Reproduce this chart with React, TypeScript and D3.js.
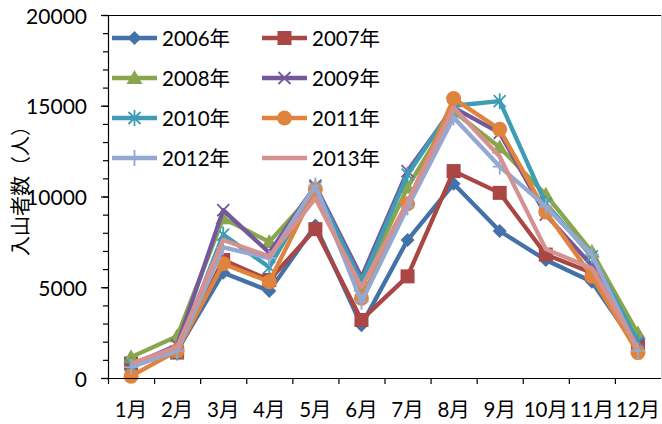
import React from "react";
import * as d3 from "d3";

const months = ["1月", "2月", "3月", "4月", "5月", "6月", "7月", "8月", "9月", "10月", "11月", "12月"];
const years = ["2006年", "2007年", "2008年", "2009年", "2010年", "2011年", "2012年", "2013年"];
const v2006 = [800, 1500, 5800, 4800, 8400, 2900, 7600, 10700, 8100, 6500, 5300, 1600];
const v2007 = [800, 1400, 6500, 5400, 8200, 3200, 5600, 11400, 10200, 6800, 5800, 1800];
const v2008 = [1150, 2300, 8800, 7500, 10300, 5100, 10500, 14700, 12700, 10100, 6950, 2450];
const v2009 = [700, 1800, 9250, 6900, 10600, 5550, 11400, 14900, 13500, 9000, 6200, 1900];
const v2010 = [700, 1400, 7900, 6100, 10500, 5300, 11200, 15000, 15250, 9600, 6700, 2000];
const v2011 = [100, 1500, 6300, 5300, 10400, 4400, 9600, 15400, 13700, 9150, 5600, 1400];
const v2012 = [600, 1500, 7200, 6600, 10600, 4200, 9400, 14350, 11650, 9450, 6800, 1500];
const v2013 = [800, 1700, 7600, 6700, 9900, 5000, 9700, 14900, 12200, 7100, 6050, 1650];
const seriesValues = [v2006, v2007, v2008, v2009, v2010, v2011, v2012, v2013];
const colors = ["#4472A8", "#AA4643", "#89A54E", "#74589C", "#3E9CB5", "#E0843D", "#93A9D3", "#D4918F"];
const markers = ["diamond", "square", "triangle", "x", "asterisk", "circle", "plus", "none"];
const yTicks = [0, 5000, 10000, 15000, 20000];
const yMinor = d3.range(0, 20001, 1000);

const W = 662, H = 424;
const L = 108, R = 661, T = 15, B = 378;
const FONT = "Lato, 'Noto Sans CJK JP', sans-serif";

function Marker({ type, x, y, color }: { type: string; x: number; y: number; color: string }) {
  switch (type) {
    case "diamond":
      return <path d={`M${x},${y - 7}L${x + 7},${y}L${x},${y + 7}L${x - 7},${y}Z`} fill={color} />;
    case "square":
      return <rect x={x - 7} y={y - 7} width={14} height={14} fill={color} />;
    case "triangle":
      return <path d={`M${x},${y - 8}L${x + 8},${y + 6}L${x - 8},${y + 6}Z`} fill={color} />;
    case "x":
      return <path d={`M${x - 6},${y - 6}L${x + 6},${y + 6}M${x + 6},${y - 6}L${x - 6},${y + 6}`} stroke={color} strokeWidth={1.8} />;
    case "asterisk":
      return <path d={`M${x - 6},${y - 6}L${x + 6},${y + 6}M${x + 6},${y - 6}L${x - 6},${y + 6}M${x},${y - 8}L${x},${y + 8}`} stroke={color} strokeWidth={1.8} />;
    case "circle":
      return <circle cx={x} cy={y} r={7.5} fill={color} />;
    case "plus":
      return <path d={`M${x - 7},${y}L${x + 7},${y}M${x},${y - 8}L${x},${y + 8}`} stroke={color} strokeWidth={1.8} />;
    default:
      return null;
  }
}

export default function App() {
  const x = d3.scaleBand<string>().domain(months).range([L, R]).paddingInner(0).paddingOuter(0);
  const y = d3.scaleLinear().domain([0, 20000]).range([B, T]);
  const cx = (m: string) => (x(m) as number) + x.bandwidth() / 2;
  const line = d3
    .line<number>()
    .x((_, i) => cx(months[i]))
    .y((d) => y(d));

  const legendRows = [38, 78, 118, 158];
  const legendCols = [112, 262];

  return (
    <svg width={W} height={H} style={{ position: "absolute", left: 0, top: 0, background: "#fff" }} fontFamily={FONT}>
      <line x1={L} x2={R} y1={T + 0.5} y2={T + 0.5} stroke="#000" strokeWidth={1.2} />
      <line x1={R + 0.5} x2={R + 0.5} y1={T} y2={B} stroke="#D9D9D9" strokeWidth={1} />

      {seriesValues.map((vals, si) => (
        <g key={si}>
          <path d={line(vals) || ""} fill="none" stroke={colors[si]} strokeWidth={4.3} strokeLinejoin="round" />
          {vals.map((v, i) => (
            <Marker key={i} type={markers[si]} x={cx(months[i])} y={y(v)} color={colors[si]} />
          ))}
        </g>
      ))}

      <line x1={L + 0.5} x2={L + 0.5} y1={T} y2={B} stroke="#000" strokeWidth={1.2} />
      {yMinor.map((t) => (
        <line key={t} x1={L - 5} x2={L} y1={y(t) + 0.5} y2={y(t) + 0.5} stroke="#000" strokeWidth={1.2} />
      ))}
      {yTicks.map((t) => (
        <g key={t}>
          <line x1={L - 7} x2={L} y1={y(t) + 0.5} y2={y(t) + 0.5} stroke="#000" strokeWidth={1.2} />
          <text x={87} y={y(t)} textAnchor="end" dominantBaseline="central" fontSize={21} fill="#000">
            {t}
          </text>
        </g>
      ))}

      <line x1={L} x2={R} y1={B + 0.5} y2={B + 0.5} stroke="#000" strokeWidth={1.2} />
      {months.map((m) => (
        <g key={m}>
          <line x1={(x(m) as number) + 0.5} x2={(x(m) as number) + 0.5} y1={B} y2={B + 6} stroke="#000" strokeWidth={1.2} />
          <text x={cx(m)} y={409} textAnchor="middle" dominantBaseline="central" fontSize={20.5} fill="#000">
            {m}
          </text>
        </g>
      ))}

      <text
        transform={`translate(20,186) rotate(-90)`}
        textAnchor="middle"
        dominantBaseline="central"
        fontSize={20}
        fill="#000"
      >
        入山者数（人）
      </text>

      {years.map((yr, i) => {
        const lx = legendCols[i % 2];
        const ly = legendRows[Math.floor(i / 2)];
        return (
          <g key={yr}>
            <line x1={lx} x2={lx + 45} y1={ly} y2={ly} stroke={colors[i]} strokeWidth={4.3} />
            <Marker type={markers[i]} x={lx + 22.5} y={ly} color={colors[i]} />
            <text x={lx + 50} y={ly} dominantBaseline="central" fontSize={20.5} fill="#000">
              {yr}
            </text>
          </g>
        );
      })}
    </svg>
  );
}
